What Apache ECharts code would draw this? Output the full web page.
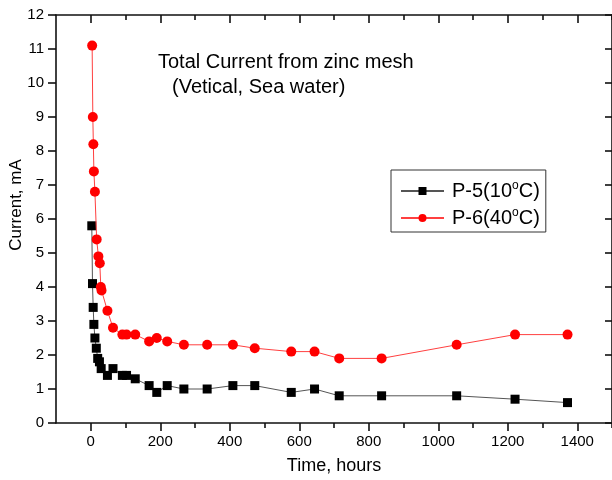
<!DOCTYPE html>
<html>
<head>
<meta charset="utf-8">
<script src="https://cdn.jsdelivr.net/npm/echarts@6/dist/echarts.min.js"></script>
<style>
html,body{margin:0;padding:0;background:#fff;}
#chart{width:612px;height:480px;}
</style>
</head>
<body>
<div id="chart"></div>
<script>
// ---- data ----
const p5Time = [3, 5, 7, 9, 12, 16, 20, 25, 30, 48, 64, 91, 103, 128, 168, 190, 220, 268, 335, 409, 472, 577, 644, 715, 837, 1053, 1221, 1372];
const p5Current = [5.8, 4.1, 3.4, 2.9, 2.5, 2.2, 1.9, 1.8, 1.6, 1.4, 1.6, 1.4, 1.4, 1.3, 1.1, 0.9, 1.1, 1.0, 1.0, 1.1, 1.1, 0.9, 1.0, 0.8, 0.8, 0.8, 0.7, 0.6];
const p6Time = [4, 6, 7.5, 9, 12, 17, 22, 26, 29, 31, 48, 64, 91, 103, 128, 168, 190, 220, 268, 335, 409, 472, 577, 644, 715, 837, 1053, 1221, 1372];
const p6Current = [11.1, 9.0, 8.2, 7.4, 6.8, 5.4, 4.9, 4.7, 4.0, 3.9, 3.3, 2.8, 2.6, 2.6, 2.6, 2.4, 2.5, 2.4, 2.3, 2.3, 2.3, 2.2, 2.1, 2.1, 1.9, 1.9, 2.3, 2.6, 2.6];
const xMajorTicks = [0, 200, 400, 600, 800, 1000, 1200, 1400];
const xMinorTicks = [100, 300, 500, 700, 900, 1100, 1300, 1500];
const seriesNames = ['P-5(10oC)', 'P-6(40oC)'];
const titleLines = ['Total Current from zinc mesh', '(Vetical, Sea water)'];
const xName = 'Time, hours';
const yName = 'Current, mA';

const FONT = 'Liberation Sans, Arial, sans-serif';
const AXC = '#111';

function pairs(xs, ys) { return xs.map((x, i) => [x, ys[i]]); }

const chart = echarts.init(document.getElementById('chart'), null, {renderer: 'canvas'});

const xBase = {min: -100, max: 1500, type: 'value', splitLine: {show: false}, gridIndex: 0};

const option = {
  backgroundColor: '#fff',
  animation: false,
  textStyle: {fontFamily: FONT},
  grid: {left: 56, top: 15, width: 558, height: 410, containLabel: false},
  xAxis: [
    Object.assign({}, xBase, {
      position: 'bottom',
      name: xName, nameLocation: 'middle', nameGap: 34,
      nameTextStyle: {fontSize: 18, color: '#000', fontFamily: FONT},
      axisLine: {show: true, onZero: false, lineStyle: {color: AXC, width: 1.6}},
      axisTick: {show: true, inside: false, length: 8, lineStyle: {color: AXC, width: 1.6}, customValues: xMajorTicks},
      axisLabel: {show: true, margin: 11, fontSize: 15, color: '#000', fontFamily: FONT, customValues: xMajorTicks,
        formatter: function (v) { return String(v); }}
    }),
    Object.assign({}, xBase, {
      position: 'bottom',
      axisLine: {show: false, onZero: false},
      axisTick: {show: true, inside: false, length: 5, lineStyle: {color: AXC, width: 1.6}, customValues: xMinorTicks},
      axisLabel: {show: false}
    }),
    Object.assign({}, xBase, {
      position: 'top',
      axisLine: {show: true, onZero: false, lineStyle: {color: AXC, width: 1.6}},
      axisTick: {show: true, inside: true, length: 8, lineStyle: {color: AXC, width: 1.6}, customValues: xMajorTicks},
      axisLabel: {show: false}
    }),
    Object.assign({}, xBase, {
      position: 'top',
      axisLine: {show: false, onZero: false},
      axisTick: {show: true, inside: true, length: 5, lineStyle: {color: AXC, width: 1.6}, customValues: xMinorTicks},
      axisLabel: {show: false}
    })
  ],
  yAxis: [
    {
      type: 'value', min: 0, max: 12, interval: 1, position: 'left',
      splitLine: {show: false},
      axisLine: {show: true, onZero: false, lineStyle: {color: AXC, width: 1.6}},
      axisTick: {show: true, inside: false, length: 8, lineStyle: {color: AXC, width: 1.6}},
      axisLabel: {show: true, margin: 12, fontSize: 15, color: '#000', fontFamily: FONT}
    },
    {
      type: 'value', min: 0, max: 12, interval: 1, position: 'right',
      splitLine: {show: false},
      axisLine: {show: true, onZero: false, lineStyle: {color: AXC, width: 1.6}},
      axisTick: {show: true, inside: true, length: 7, lineStyle: {color: AXC, width: 1.6}},
      axisLabel: {show: false}
    }
  ],
  legend: {
    orient: 'vertical',
    left: 391, top: 170,
    backgroundColor: '#fff',
    borderColor: '#333', borderWidth: 1,
    padding: [10, 6, 3, 9],
    itemWidth: 43, itemHeight: 10,
    itemGap: 5,
    data: seriesNames,
    formatter: function (name) {
      return name.replace('oC', '{sup|o}C');
    },
    textStyle: {
      fontSize: 20, color: '#000', fontFamily: FONT, lineHeight: 22, padding: [0, 0, 0, 3],
      rich: {sup: {fontSize: 12, fontFamily: FONT, color: '#000', verticalAlign: 'top', lineHeight: 12}}
    }
  },
  graphic: [
    {type: 'text', left: 158, top: 52, style: {text: titleLines[0], fontSize: 20, fontFamily: FONT, fill: '#000'}},
    {type: 'text', left: 172, top: 77, style: {text: titleLines[1], fontSize: 20, fontFamily: FONT, fill: '#000'}},
    {type: 'text', x: 16, y: 205, rotation: Math.PI / 2,
      style: {text: yName, fontSize: 17, fontFamily: FONT, fill: '#000', align: 'center', verticalAlign: 'middle'}}
  ],
  series: [
    {
      name: seriesNames[0], type: 'line', xAxisIndex: 0, yAxisIndex: 0,
      data: pairs(p5Time, p5Current),
      symbol: 'rect', symbolSize: 9,
      itemStyle: {color: '#000'},
      lineStyle: {color: '#555', width: 1},
      z: 3
    },
    {
      name: seriesNames[1], type: 'line', xAxisIndex: 0, yAxisIndex: 0,
      data: pairs(p6Time, p6Current),
      symbol: 'circle', symbolSize: 10,
      itemStyle: {color: '#ff0000'},
      lineStyle: {color: '#ff4040', width: 1},
      z: 4
    }
  ]
};
chart.setOption(option);
</script>
</body>
</html>
